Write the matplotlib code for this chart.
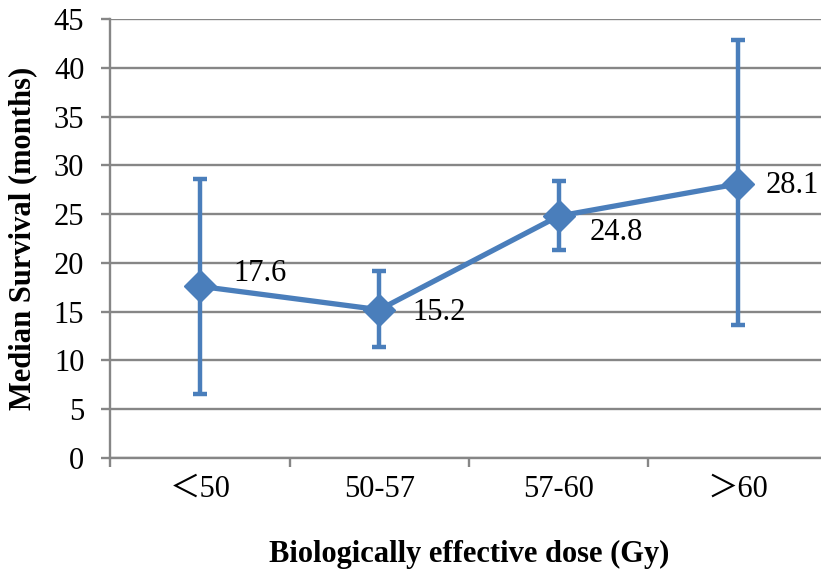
import matplotlib.pyplot as plt
import numpy as np

# Median survival by BED group, with error bar ends
groups = ['＜50', '50-57', '57-60', '＞60']
median_survival = [17.6, 15.2, 24.8, 28.1]
lower_bound = [6.6, 11.4, 21.3, 13.6]
upper_bound = [28.6, 19.2, 28.4, 42.8]

# where each value label sits relative to its point (points)
label_offsets = [(24, 9), (24, -2), (22, -12), (20, -1)]

blue = '#4a7ebb'
grey = '#868686'
serif = ['Liberation Serif', 'Noto Sans CJK SC']
fs = 22

x = np.arange(len(groups))
med = np.array(median_survival)
err = [med - np.array(lower_bound), np.array(upper_bound) - med]

fig = plt.figure(figsize=(8.21, 5.75), dpi=100)
ax = fig.add_axes([0.134, 0.2035, 0.8745, 0.7635])

ax.errorbar(x, med, yerr=err, color=blue, linewidth=3.8, marker='D', markersize=16,
            elinewidth=3.2, capsize=5, capthick=3.2, zorder=3)

for xi, v, off in zip(x, median_survival, label_offsets):
    ax.annotate(f'{v}', (xi, v), xytext=off, textcoords='offset points',
                fontsize=fs, family=serif, va='center', ha='left')

ax.set_xlim(-0.5, len(groups) - 0.5)
ax.set_ylim(0, 45)
ax.set_yticks(np.arange(0, 46, 5))
ax.yaxis.grid(True, color=grey, linewidth=1.7)
ax.set_axisbelow(True)

# group boundaries carry the tick marks, centres carry the labels
ax.set_xticks(np.arange(-0.5, len(groups)), labels=[''] * (len(groups) + 1))
ax.set_xticks(x, labels=groups, minor=True)
ax.tick_params(axis='x', which='minor', length=0, pad=12)
ax.tick_params(axis='x', which='major', length=6.5, width=1.7, color=grey)
ax.tick_params(axis='y', length=6.5, width=1.7, color=grey, pad=12)
for lab in ax.get_xticklabels(minor=True) + ax.get_yticklabels():
    lab.set_fontsize(fs)
    lab.set_family(serif)

for side in ['top', 'right']:
    ax.spines[side].set_visible(False)
for side in ['left', 'bottom']:
    ax.spines[side].set_color(grey)
    ax.spines[side].set_linewidth(1.7)

ax.set_xlabel('Biologically effective dose (Gy)', fontsize=fs, fontweight='bold',
              family=serif, labelpad=26)
ax.set_ylabel('Median Survival (months)', fontsize=fs, fontweight='bold',
              family=serif, labelpad=12)

fig.savefig('out.png', dpi=100)
